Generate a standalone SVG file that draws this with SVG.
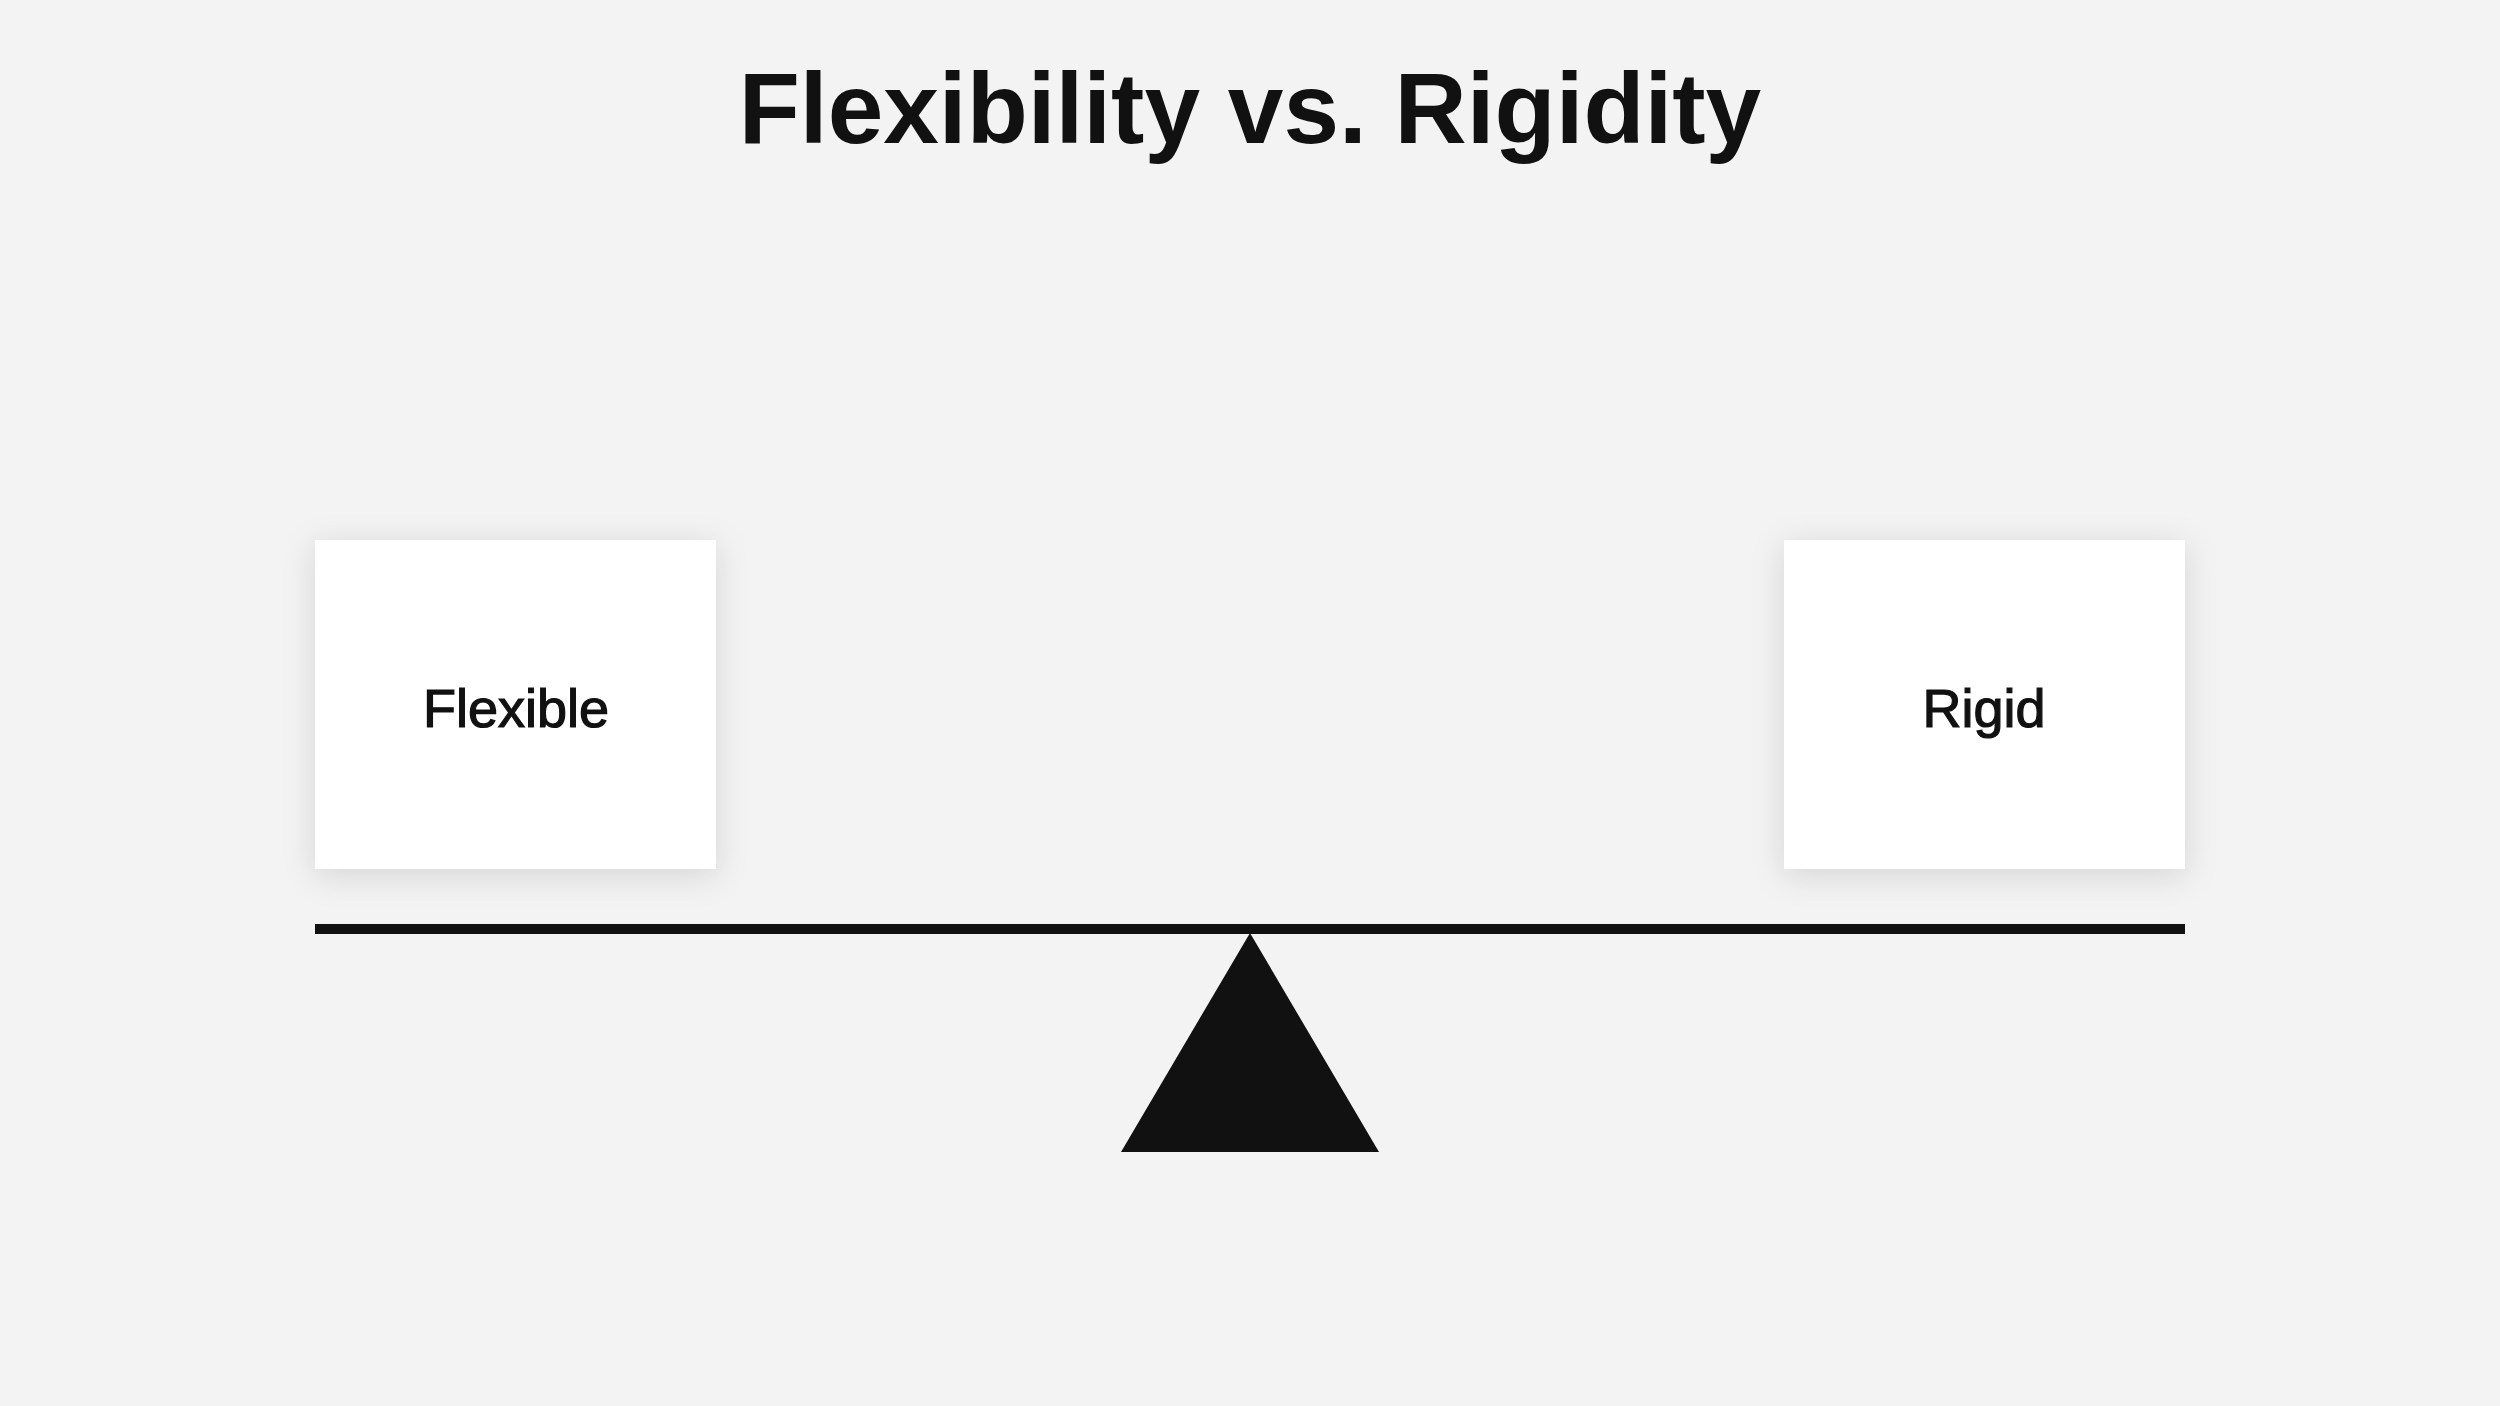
<svg xmlns="http://www.w3.org/2000/svg" width="2500" height="1406" viewBox="0 0 2500 1406">
  <defs>
    <filter id="shadow" x="-20%" y="-20%" width="140%" height="150%">
      <feDropShadow dx="0" dy="6" stdDeviation="16" flood-color="#000" flood-opacity="0.13"/>
    </filter>
  </defs>
  <style>
    .title { font-family: "Liberation Sans", Arial, sans-serif; font-weight: 700; font-size: 100px; fill: #111; }
    .box { fill: #ffffff; filter: url(#shadow); }
    .label { font-family: "Liberation Sans", Arial, sans-serif; font-size: 54px; fill: #111; stroke: #111; stroke-width: 1.2px; }
    .ink { fill: #111; }
  </style>
  <rect x="0" y="0" width="2500" height="1406" fill="#f3f3f3"/>
  <text class="title" x="1250" y="143" text-anchor="middle">Flexibility vs. Rigidity</text>
  <g id="node-flexible">
    <rect class="box" x="315" y="540" width="401" height="329"/>
    <text class="label" x="516" y="727" text-anchor="middle">Flexible</text>
  </g>
  <g id="node-rigid">
    <rect class="box" x="1784" y="540" width="401" height="329"/>
    <text class="label" x="1984" y="727" text-anchor="middle">Rigid</text>
  </g>
  <g id="connectors">
    <rect id="beam" class="ink" x="315" y="924" width="1870" height="10"/>
    <polygon id="fulcrum" class="ink" points="1250,933 1379,1152 1121,1152"/>
  </g>
</svg>
